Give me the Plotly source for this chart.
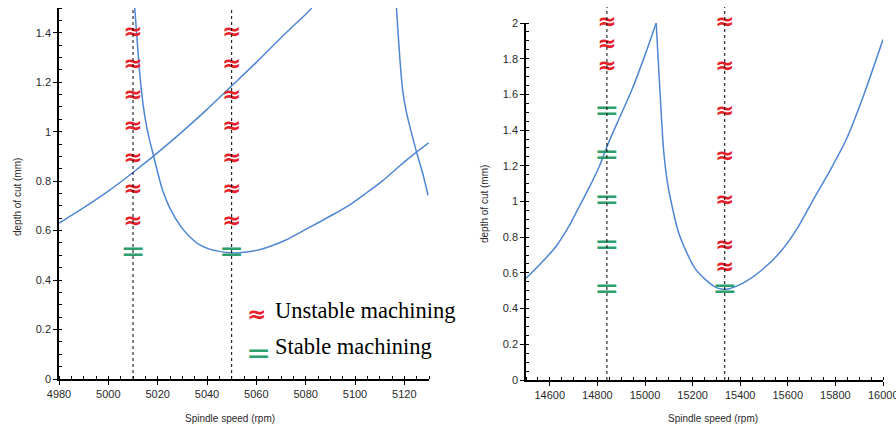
import plotly.graph_objects as go

# ---------------- data ----------------
# Left panel: stability lobes (depth of cut, mm) vs spindle speed (rpm)
lobe_a_speed = [5010.7, 5011.6, 5012.5, 5013.6, 5015.0, 5016.5, 5018.1, 5020.0, 5022.1, 5025.0,
                5029.5, 5033.0, 5036.9, 5041.0, 5045.0, 5050.0, 5055.0, 5060.0, 5066.0, 5072.0,
                5080.0, 5090.8, 5098.0, 5104.3, 5111.0, 5117.7, 5124.0, 5129.9]
lobe_a_depth = [1.50, 1.38, 1.262, 1.15, 1.05, 0.975, 0.912, 0.835, 0.76, 0.69,
                0.615, 0.575, 0.543, 0.525, 0.516, 0.51, 0.512, 0.52, 0.538, 0.562,
                0.605, 0.663, 0.705, 0.75, 0.80, 0.858, 0.91, 0.955]
lobe_b_speed = [4980, 4990, 5000, 5010, 5020, 5030, 5040, 5050, 5060, 5070, 5080, 5082.5]
lobe_b_depth = [0.630, 0.693, 0.760, 0.835, 0.915, 1.00, 1.09, 1.185, 1.28, 1.38, 1.475, 1.50]
lobe_c_speed = [5116.8, 5118.0, 5119.3, 5120.8, 5122.5, 5125.1, 5127.5, 5129.6]
lobe_c_depth = [1.50, 1.32, 1.17, 1.08, 1.01, 0.912, 0.83, 0.743]

left_test_speeds = [5010, 5050]
left_unstable_depths = [0.635, 0.762, 0.889, 1.016, 1.143, 1.270, 1.397]
left_stable_depths = [0.508]

# Right panel
right_speed = [14500, 14560, 14626, 14680, 14724, 14770, 14808, 14846, 14900, 14945,
               15000, 15047, 15057, 15078, 15095, 15114, 15140, 15170, 15210,
               15254, 15290, 15320, 15350, 15380, 15423, 15490, 15564, 15640, 15705, 15780,
               15845, 15920, 16000]
right_depth = [0.57, 0.65, 0.748, 0.86, 0.972, 1.09, 1.196, 1.327, 1.49, 1.626,
               1.82, 2.0, 1.757, 1.29, 1.10, 0.972, 0.83, 0.729, 0.625,
               0.562, 0.525, 0.51, 0.51, 0.523, 0.551, 0.615, 0.71, 0.85, 1.005, 1.18,
               1.346, 1.6, 1.907]

right_speed_a = 14840
right_a_stable = [0.5, 0.75, 1.0, 1.25, 1.5]
right_a_unstable = [1.75, 1.875, 2.0]
right_speed_b = 15335
right_b_unstable = [0.625, 0.75, 1.0, 1.25, 1.5, 1.75, 2.0]
right_b_stable = [0.5]

# ---------------- styling ----------------
W, H = 896, 427
LINE_C = "#4f86d4"
RED = "#e8202a"
GREEN = "#2e9e6e"
TICK_FONT = dict(family="Liberation Sans, Arial", size=11, color="#2a2a2a")

def px_x(p):
    return p / W

def px_y(p):
    return 1 - p / H

fig = go.Figure()

for xs, ys in [(lobe_a_speed, lobe_a_depth), (lobe_b_speed, lobe_b_depth), (lobe_c_speed, lobe_c_depth)]:
    fig.add_trace(go.Scatter(x=xs, y=ys, mode="lines",
                             line=dict(color=LINE_C, width=1.5, shape="spline", smoothing=0.6),
                             xaxis="x", yaxis="y", showlegend=False, hoverinfo="skip"))

# right curve: split at its sharp peak so each branch is smooth
pk = right_depth.index(max(right_depth))
for xs, ys in [(right_speed[:pk + 1], right_depth[:pk + 1]), (right_speed[pk:], right_depth[pk:])]:
    fig.add_trace(go.Scatter(x=xs, y=ys, mode="lines",
                             line=dict(color=LINE_C, width=1.5, shape="spline", smoothing=0.6),
                             xaxis="x2", yaxis="y2", showlegend=False, hoverinfo="skip"))

def glyphs(xs, ys, ch, color, size, xa, ya, weight):
    fig.add_trace(go.Scatter(x=xs, y=ys, mode="text", text=[ch] * len(xs),
                             textposition="middle center",
                             textfont=dict(family="DejaVu Sans", size=size, color=color, weight=weight),
                             cliponaxis=False, xaxis=xa, yaxis=ya,
                             showlegend=False, hoverinfo="skip"))

UNST = "≈"
STAB = "="
U_SIZE, S_SIZE = 23, 30
for s in left_test_speeds:
    glyphs([s] * len(left_unstable_depths), left_unstable_depths, UNST, RED, U_SIZE, "x", "y", "bold")
    glyphs([s] * len(left_stable_depths), left_stable_depths, STAB, GREEN, S_SIZE, "x", "y", "normal")

glyphs([right_speed_a] * len(right_a_stable), right_a_stable, STAB, GREEN, S_SIZE, "x2", "y2", "normal")
glyphs([right_speed_a] * len(right_a_unstable), right_a_unstable, UNST, RED, U_SIZE, "x2", "y2", "bold")
glyphs([right_speed_b] * len(right_b_unstable), right_b_unstable, UNST, RED, U_SIZE, "x2", "y2", "bold")
glyphs([right_speed_b] * len(right_b_stable), right_b_stable, STAB, GREEN, S_SIZE, "x2", "y2", "normal")

# dotted vertical test lines
shapes = []
for s in left_test_speeds:
    shapes.append(dict(type="line", xref="x", yref="paper", x0=s, x1=s,
                       y0=px_y(379), y1=px_y(7), line=dict(color="black", width=1, dash="dot")))
for s in [right_speed_a, right_speed_b]:
    shapes.append(dict(type="line", xref="x2", yref="paper", x0=s, x1=s,
                       y0=px_y(380), y1=px_y(7), line=dict(color="black", width=1, dash="dot")))

axis_common = dict(showline=True, linecolor="black", linewidth=1.5, ticks="outside",
                   ticklen=4, tickcolor="black", showgrid=False, zeroline=False,
                   tickfont=TICK_FONT, fixedrange=True, automargin=False,
                   tickformat="d")

fig.update_layout(
    width=W, height=H, margin=dict(l=0, r=0, t=0, b=0, autoexpand=False),
    paper_bgcolor="white", plot_bgcolor="white", showlegend=False,
    xaxis=dict(domain=[px_x(59), px_x(429)], range=[4980, 5130], tick0=4980, dtick=20,
               anchor="y", minor=dict(dtick=5, ticks="inside", ticklen=3, tickcolor="black"),
               **axis_common),
    yaxis=dict(domain=[px_y(379), px_y(8)], range=[0, 1.5], tick0=0, dtick=0.2,
               anchor="x", minor=dict(dtick=0.05, ticks="inside", ticklen=3, tickcolor="black"),
               **{**axis_common, "tickformat": ""}),
    xaxis2=dict(domain=[px_x(526), px_x(883)], range=[14500, 16000], tick0=14600, dtick=200,
                anchor="y2", minor=dict(dtick=50, ticks="inside", ticklen=3, tickcolor="black"),
                **axis_common),
    yaxis2=dict(domain=[px_y(380), px_y(23)], range=[0, 2.0], tick0=0, dtick=0.2,
                anchor="x2", minor=dict(dtick=0.05, ticks="inside", ticklen=3, tickcolor="black"),
                **{**axis_common, "tickformat": ""}),
    shapes=shapes,
)

TITLE_FONT = dict(family="Liberation Sans, Arial", size=10, color="#2a2a2a")
ann = [
    dict(text="depth of cut (mm)", x=px_x(17), y=px_y(197), textangle=-90, font=TITLE_FONT),
    dict(text="depth of cut (mm)", x=px_x(484), y=px_y(204), textangle=-90, font=TITLE_FONT),
    dict(text="Spindle speed (rpm)", x=px_x(230), y=px_y(418), font=TITLE_FONT),
    dict(text="Spindle speed (rpm)", x=px_x(713), y=px_y(418), font=TITLE_FONT),
    # last tick label of the right panel, which the axis itself drops at the page edge
    dict(text="16000", x=px_x(883), y=px_y(395), font=TICK_FONT),
    # legend
    dict(text="≈", x=px_x(245), y=px_y(314), xanchor="left",
         font=dict(family="DejaVu Sans", size=23, color=RED, weight="bold")),
    dict(text="Unstable machining", x=px_x(273), y=px_y(310), xanchor="left",
         font=dict(family="Liberation Serif", size=22.5, color="black")),
    dict(text="=", x=px_x(244), y=px_y(352), xanchor="left",
         font=dict(family="DejaVu Sans", size=30, color=GREEN)),
    dict(text="Stable machining", x=px_x(273), y=px_y(346), xanchor="left",
         font=dict(family="Liberation Serif", size=22.5, color="black")),
]
for a in ann:
    a.setdefault("xanchor", "center")
    a.update(xref="paper", yref="paper", yanchor="middle", showarrow=False)
fig.update_layout(annotations=ann)

fig.write_html("out.html", config={"displayModeBar": False},
               post_script="document.body.style.margin='0px';document.body.style.padding='0px';document.body.style.overflow='hidden';")
